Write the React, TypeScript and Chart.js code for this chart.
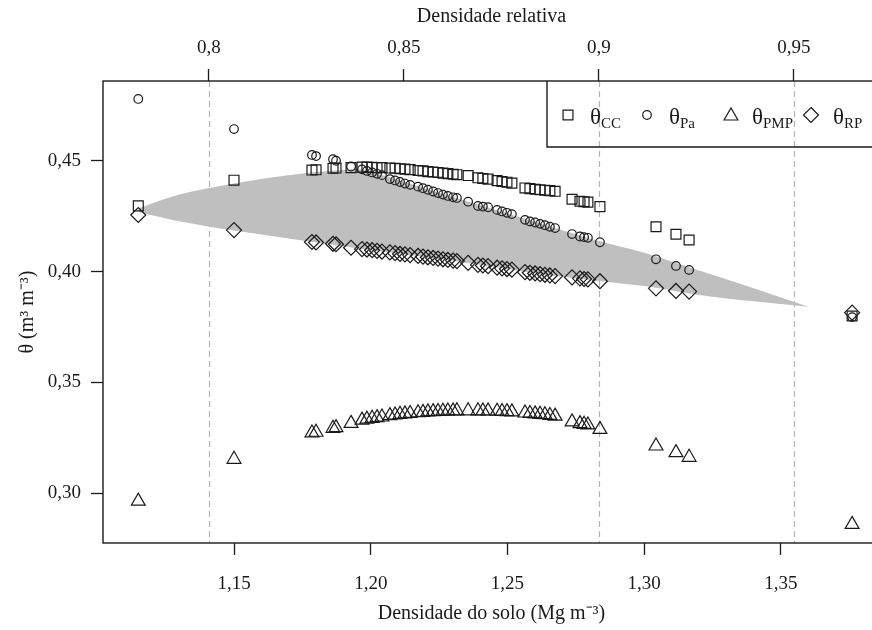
import React, { useEffect, useRef } from 'react';
import { Chart, registerables } from 'chart.js';

Chart.register(...registerables);

const FONT = '"Liberation Serif", "Times New Roman", serif';
const INK = '#1a1a1a';

// Maximum density used for the relative-density (top) axis
const D_MAX = 1.426;

// Axis ranges
const X_MIN = 1.1021;
const X_MAX = 1.3862;
const Y_MIN = 0.2775;
const Y_MAX = 0.4861;

// Tick labels
const xTicks = [1.15, 1.2, 1.25, 1.3, 1.35];
const relTicks = [0.8, 0.85, 0.9, 0.95];
const yTicks = [0.3, 0.35, 0.4, 0.45];
// Critical relative densities marked with dashed lines
const refLines = [0.8, 0.9, 0.95];

// Soil density of each sample (Mg m-3)
const density = [
  1.115, 1.15, 1.1785, 1.18, 1.1862, 1.1873, 1.1928, 1.1968, 1.1986, 1.2005,
  1.2023, 1.2041, 1.207, 1.2089, 1.2107, 1.2125, 1.2144, 1.2173, 1.2191, 1.2209,
  1.2228, 1.2246, 1.2264, 1.2282, 1.2301, 1.2315, 1.2356, 1.2392, 1.241, 1.2429,
  1.2462, 1.248, 1.2498, 1.2516, 1.2564, 1.2582, 1.2601, 1.2619, 1.2637, 1.2655,
  1.2674, 1.2736, 1.2765, 1.278, 1.2794, 1.2838, 1.3043, 1.3116, 1.3164, 1.376,
];

const thetaCC = [
  0.4297, 0.4413, 0.4459, 0.446, 0.4467, 0.4468, 0.447, 0.4472, 0.4472, 0.4471,
  0.447, 0.447, 0.4468, 0.4467, 0.4465, 0.4463, 0.4461, 0.4457, 0.4455, 0.4452,
  0.445, 0.4448, 0.4445, 0.4443, 0.444, 0.4438, 0.4434, 0.4424, 0.4421, 0.4418,
  0.4411, 0.4407, 0.4404, 0.44, 0.4378, 0.4375, 0.4372, 0.437, 0.4368, 0.4366,
  0.4363, 0.4327, 0.4318, 0.4316, 0.4314, 0.4294, 0.4203, 0.4169, 0.4143, 0.38,
];

const thetaPa = [
  0.478, 0.4644, 0.4527, 0.4522, 0.4508, 0.4501, 0.4475, 0.4462, 0.4455, 0.4448,
  0.4442, 0.4436, 0.4418, 0.4412, 0.4405, 0.4398, 0.4392, 0.4384, 0.4377, 0.437,
  0.4362, 0.4355, 0.4348, 0.4342, 0.4336, 0.4333, 0.4316, 0.4297, 0.4294, 0.4291,
  0.4279, 0.4272, 0.4266, 0.426, 0.4234, 0.4227, 0.4222, 0.4216, 0.421, 0.4203,
  0.4197, 0.417, 0.4159, 0.4156, 0.4153, 0.4133, 0.4056, 0.4026, 0.4008, 0.3795,
];

const thetaPMP = [
  0.2964, 0.3153, 0.3272, 0.3275, 0.3293, 0.3296, 0.3315, 0.333, 0.3334, 0.3338,
  0.3341, 0.3344, 0.335, 0.3353, 0.3356, 0.3358, 0.336, 0.3363, 0.3365, 0.3367,
  0.3368, 0.3369, 0.337, 0.3371, 0.3371, 0.3372, 0.3372, 0.3372, 0.3371, 0.3371,
  0.337, 0.3369, 0.3368, 0.3367, 0.3362, 0.336, 0.3358, 0.3356, 0.3354, 0.3351,
  0.3348, 0.3322, 0.3314, 0.3311, 0.3308, 0.3288, 0.3213, 0.3183, 0.3162, 0.2859,
];

const thetaRP = [
  0.4256, 0.4188, 0.4134, 0.4132, 0.4126, 0.4124, 0.4108, 0.4102, 0.41, 0.4097,
  0.4094, 0.4091, 0.4087, 0.4084, 0.408, 0.4078, 0.4075, 0.4071, 0.4068, 0.4065,
  0.4062, 0.4059, 0.4056, 0.4053, 0.405, 0.4048, 0.404, 0.4031, 0.4028, 0.4025,
  0.4018, 0.4015, 0.4012, 0.4009, 0.3998, 0.3995, 0.3992, 0.3989, 0.3986, 0.3983,
  0.398, 0.3974, 0.397, 0.3967, 0.3965, 0.3957, 0.3925, 0.3913, 0.391, 0.3815,
];

// Least limiting water range band (upper and lower limits)
const bandDensity = [1.115, 1.13, 1.15, 1.17, 1.19, 1.195, 1.2, 1.22, 1.24, 1.26, 1.28, 1.3, 1.32, 1.34, 1.36];
const bandUpper = [0.4285, 0.4348, 0.4398, 0.4436, 0.446, 0.4464, 0.445, 0.4375, 0.43, 0.4225, 0.415, 0.4085, 0.4005, 0.3925, 0.3842];
const bandLower = [0.427, 0.4228, 0.4186, 0.415, 0.4115, 0.4106, 0.4098, 0.4066, 0.4031, 0.3993, 0.3963, 0.3935, 0.3895, 0.3866, 0.3842];

// Legend
const legendSubs = ['CC', 'Pa', 'PMP', 'RP'];
const legendStyles = ['rect', 'circle', 'triangle', 'rectRot'];

const fmt = (v: number, d: number) => v.toFixed(d).replace('.', ',');
const fmtRel = (v: number) => String(Math.round(v * 100) / 100).replace('.', ',');

const pointRadius: Record<string, number> = { rect: 7, circle: 4.3, triangle: 8, rectRot: 7.5 };

function drawShape(ctx: CanvasRenderingContext2D, style: string, x: number, y: number) {
  const r = pointRadius[style];
  ctx.beginPath();
  if (style === 'rect') {
    const s = Math.SQRT1_2 * r;
    ctx.rect(x - s, y - s, 2 * s, 2 * s);
  } else if (style === 'circle') {
    ctx.arc(x, y, r, 0, Math.PI * 2);
  } else if (style === 'triangle') {
    for (let k = 0; k < 3; k++) {
      const a = (k * 2 * Math.PI) / 3;
      const px = x + Math.sin(a) * r;
      const py = y - Math.cos(a) * r;
      if (k === 0) ctx.moveTo(px, py);
      else ctx.lineTo(px, py);
    }
    ctx.closePath();
  } else {
    ctx.moveTo(x, y - r);
    ctx.lineTo(x + r, y);
    ctx.lineTo(x, y + r);
    ctx.lineTo(x - r, y);
    ctx.closePath();
  }
  ctx.stroke();
}

export default function App() {
  const ref = useRef<HTMLCanvasElement>(null);

  useEffect(() => {
    if (!ref.current) return;
    const pts = (ys: number[]) => density.map((x, i) => ({ x, y: ys[i] }));
    const band = (ys: number[]) => bandDensity.map((x, i) => ({ x, y: ys[i] }));

    const tickFont = { family: FONT, size: 19 };
    const titleFont = { family: FONT, size: 20 };

    const refLinePlugin = {
      id: 'refLines',
      beforeDatasetsDraw(chart: any) {
        const { ctx, chartArea: a } = chart;
        const s = chart.scales.x2;
        ctx.save();
        ctx.strokeStyle = '#b4b4b4';
        ctx.lineWidth = 1.2;
        ctx.setLineDash([6, 4]);
        refLines.forEach((v) => {
          const px = Math.round(s.getPixelForValue(v)) + 0.5;
          ctx.beginPath();
          ctx.moveTo(px, a.top);
          ctx.lineTo(px, a.bottom);
          ctx.stroke();
        });
        ctx.restore();
      },
      afterDatasetsDraw(chart: any) {
        const { ctx, chartArea: a } = chart;
        ctx.save();
        ctx.strokeStyle = INK;
        ctx.lineWidth = 1.4;
        ctx.strokeRect(a.left, a.top, a.right - a.left, a.bottom - a.top);

        // legend box (its right side lies beyond the visible area, like the frame)
        const boxL = 547;
        const boxB = 147;
        ctx.beginPath();
        ctx.moveTo(a.right, boxB);
        ctx.lineTo(boxL, boxB);
        ctx.lineTo(boxL, a.top);
        ctx.stroke();

        const symX = [568, 647, 731, 811];
        const txtX = [590, 669, 752, 833];
        const cy = 115;
        ctx.lineWidth = 1.2;
        legendStyles.forEach((st, i) => {
          drawShape(ctx, st, symX[i], cy + (st === 'triangle' ? 1 : 0));
          ctx.fillStyle = INK;
          ctx.textBaseline = 'alphabetic';
          ctx.textAlign = 'left';
          ctx.font = `23px ${FONT}`;
          ctx.fillText('θ', txtX[i], 124);
          const w = ctx.measureText('θ').width;
          ctx.font = `15px ${FONT}`;
          ctx.fillText(legendSubs[i], txtX[i] + w, 128);
        });
        ctx.restore();
      },
    };

    const scatterDs = (label: string, ys: number[], style: string) => ({
      type: 'scatter' as const,
      label,
      data: pts(ys),
      pointStyle: style,
      pointRadius: pointRadius[style],
      pointHoverRadius: pointRadius[style],
      pointBorderColor: INK,
      pointBackgroundColor: 'rgba(0,0,0,0)',
      pointBorderWidth: 1.2,
      borderColor: INK,
      backgroundColor: 'rgba(0,0,0,0)',
      showLine: false,
      order: 1,
    });

    const axisGrid = {
      drawOnChartArea: false,
      drawTicks: true,
      tickLength: 12,
      tickColor: INK,
      tickWidth: 1.3,
    };

    const chart = new Chart(ref.current, {
      type: 'scatter',
      data: {
        datasets: [
          scatterDs('θCC', thetaCC, 'rect'),
          scatterDs('θPa', thetaPa, 'circle'),
          scatterDs('θPMP', thetaPMP, 'triangle'),
          scatterDs('θRP', thetaRP, 'rectRot'),
          {
            type: 'line' as const,
            label: 'IHO superior',
            data: band(bandUpper),
            showLine: true,
            borderWidth: 0,
            borderColor: 'rgba(0,0,0,0)',
            pointRadius: 0,
            backgroundColor: '#bfbfbf',
            fill: '+1',
            cubicInterpolationMode: 'monotone',
            order: 10,
          },
          {
            type: 'line' as const,
            label: 'IHO inferior',
            data: band(bandLower),
            showLine: true,
            borderWidth: 0,
            borderColor: 'rgba(0,0,0,0)',
            pointRadius: 0,
            backgroundColor: '#bfbfbf',
            fill: false,
            cubicInterpolationMode: 'monotone',
            order: 11,
          },
        ],
      } as any,
      options: {
        responsive: false,
        animation: false,
        devicePixelRatio: 1,
        layout: { autoPadding: false, padding: 0 },
        plugins: {
          legend: { display: false },
          tooltip: { enabled: false },
        },
        scales: {
          x: {
            type: 'linear',
            position: 'bottom',
            min: X_MIN,
            max: X_MAX,
            afterBuildTicks: (s: any) => {
              s.ticks = xTicks.map((v) => ({ value: v }));
            },
            afterFit: (s: any) => {
              s.height = 87;
            },
            ticks: {
              callback: (v: any) => fmt(Number(v), 2),
              font: tickFont,
              color: INK,
              padding: 18,
              maxRotation: 0,
              autoSkip: false,
            },
            grid: axisGrid,
            border: { display: false },
            title: {
              display: true,
              text: 'Densidade do solo (Mg m⁻³)',
              font: titleFont,
              color: INK,
              padding: { top: 0, bottom: 4 },
            },
          },
          x2: {
            type: 'linear',
            position: 'top',
            min: X_MIN / D_MAX,
            max: X_MAX / D_MAX,
            afterBuildTicks: (s: any) => {
              s.ticks = relTicks.map((v) => ({ value: v }));
            },
            afterFit: (s: any) => {
              s.height = 81;
            },
            ticks: {
              callback: (v: any) => fmtRel(Number(v)),
              font: tickFont,
              color: INK,
              padding: 10,
              maxRotation: 0,
              autoSkip: false,
            },
            grid: axisGrid,
            border: { display: false },
            title: {
              display: true,
              text: 'Densidade relativa',
              font: titleFont,
              color: INK,
              padding: { top: 5, bottom: 0 },
            },
          },
          y: {
            type: 'linear',
            position: 'left',
            min: Y_MIN,
            max: Y_MAX,
            afterBuildTicks: (s: any) => {
              s.ticks = yTicks.map((v) => ({ value: v }));
            },
            afterFit: (s: any) => {
              s.width = 103;
            },
            ticks: {
              callback: (v: any) => fmt(Number(v), 2),
              font: tickFont,
              color: INK,
              padding: 10,
              autoSkip: false,
            },
            grid: axisGrid,
            border: { display: false },
            title: {
              display: true,
              text: 'θ (m³ m⁻³)',
              font: titleFont,
              color: INK,
              padding: { top: 16, bottom: 0 },
            },
          },
        },
      } as any,
      plugins: [refLinePlugin],
    });

    return () => chart.destroy();
  }, []);

  return (
    <div
      style={{
        position: 'absolute',
        left: 0,
        top: 0,
        width: 872,
        height: 630,
        overflow: 'hidden',
        background: '#fff',
      }}
    >
      <canvas ref={ref} width={880} height={630} style={{ display: 'block' }} />
    </div>
  );
}
